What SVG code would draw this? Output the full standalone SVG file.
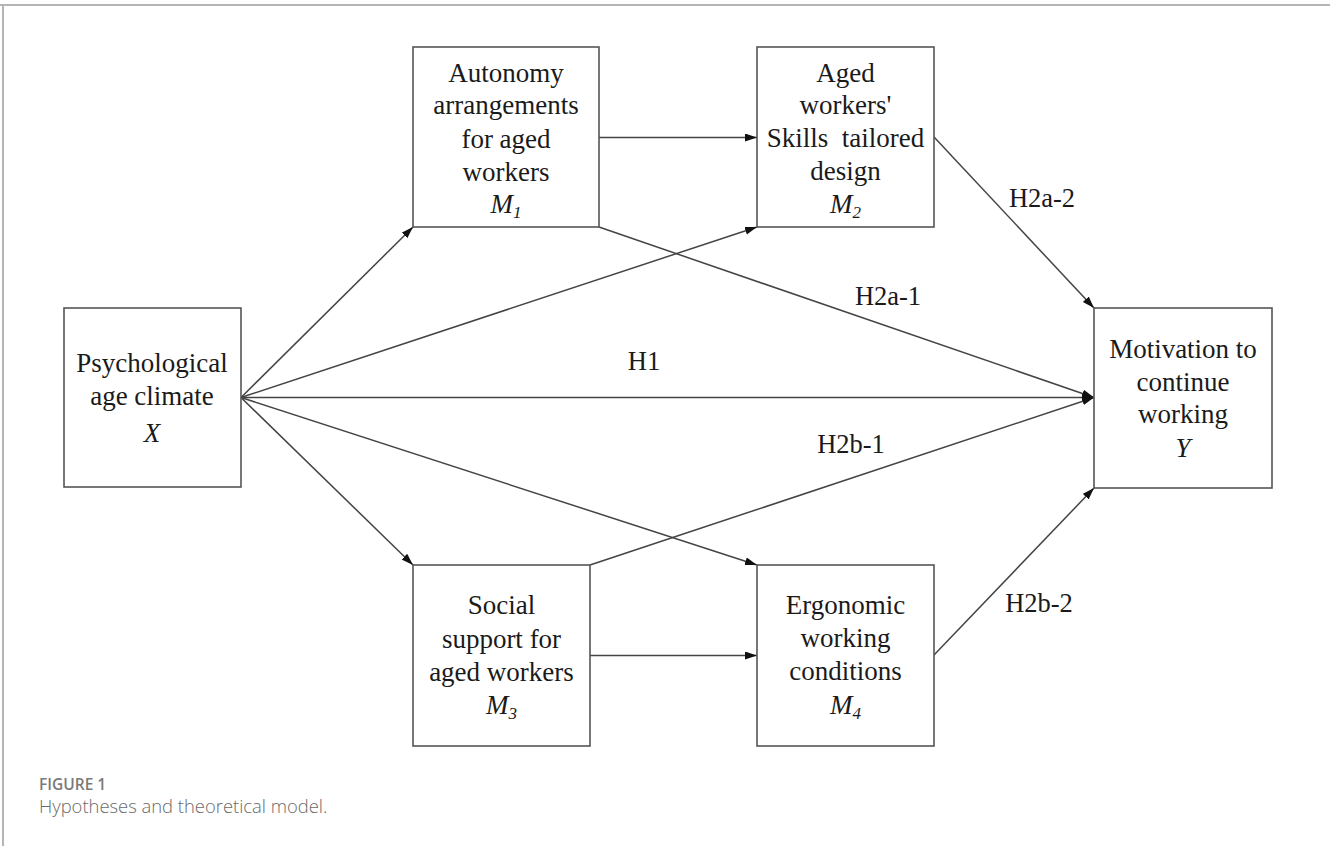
<svg xmlns="http://www.w3.org/2000/svg" width="1330" height="846" viewBox="0 0 1330 846">
<defs>
<marker id="arr" markerUnits="userSpaceOnUse" markerWidth="14" markerHeight="10" refX="12" refY="4" orient="auto">
<path d="M0,0 L12,4 L0,8 z" fill="#111"/>
</marker>
</defs>
<style>
.box{fill:#fff;stroke:#555;stroke-width:1.6}
.t{font-family:"Liberation Serif","Times New Roman",serif;font-size:27px;fill:#1a1a1a;text-anchor:middle}
.i{font-style:italic}
.lbl{font-family:"Liberation Serif","Times New Roman",serif;font-size:26.5px;fill:#1a1a1a;text-anchor:middle}
.c{fill:none;stroke:#444;stroke-width:1.5;marker-end:url(#arr)}
</style>
<rect width="1330" height="846" fill="#fff"/>
<g id="frame">
<line x1="0" y1="5" x2="1330" y2="5" stroke="#b5b5b5" stroke-width="2"/>
<line x1="3" y1="5" x2="3" y2="846" stroke="#b5b5b5" stroke-width="2"/>
</g>
<g id="connectors">
<line class="c" x1="599" y1="137.5" x2="757" y2="137.5"/>
<line class="c" x1="590" y1="655.5" x2="757" y2="655.5"/>
<line class="c" x1="241" y1="397.5" x2="413" y2="227"/>
<line class="c" x1="241" y1="397.5" x2="757" y2="227"/>
<line class="c" x1="241" y1="397.5" x2="1094" y2="397.5"/>
<line class="c" x1="241" y1="397.5" x2="413" y2="565"/>
<line class="c" x1="241" y1="397.5" x2="757" y2="565"/>
<line class="c" x1="599" y1="227" x2="1094" y2="397.5"/>
<line class="c" x1="934" y1="137" x2="1094" y2="308"/>
<line class="c" x1="590" y1="565" x2="1094" y2="397.5"/>
<line class="c" x1="934" y1="655" x2="1094" y2="488"/>
</g>
<g id="labels">
<text class="lbl" x="644" y="370">H1</text>
<text class="lbl" x="888" y="305">H2a-1</text>
<text class="lbl" x="1042" y="207">H2a-2</text>
<text class="lbl" x="851" y="453">H2b-1</text>
<text class="lbl" x="1039" y="612">H2b-2</text>
</g>
<g id="X">
<rect class="box" x="64" y="308" width="177" height="179"/>
<text class="t" x="152" y="372">Psychological</text>
<text class="t" x="152" y="405">age climate</text>
<text class="t i" x="152" y="442">X</text>
</g>
<g id="M1">
<rect class="box" x="413" y="47" width="186" height="180"/>
<text class="t" x="506" y="82">Autonomy</text>
<text class="t" x="506" y="114">arrangements</text>
<text class="t" x="506" y="148">for aged</text>
<text class="t" x="506" y="181">workers</text>
<text class="t i" x="506" y="213">M<tspan font-size="17" dy="5">1</tspan></text>
</g>
<g id="M2">
<rect class="box" x="757" y="47" width="177" height="180"/>
<text class="t" x="845.5" y="82">Aged</text>
<text class="t" x="845.5" y="114">workers'</text>
<text class="t" x="845.5" y="147" xml:space="preserve">Skills  tailored</text>
<text class="t" x="845.5" y="180">design</text>
<text class="t i" x="845.5" y="213">M<tspan font-size="17" dy="5">2</tspan></text>
</g>
<g id="Y">
<rect class="box" x="1094" y="308" width="178" height="180"/>
<text class="t" x="1183" y="358">Motivation to</text>
<text class="t" x="1183" y="391">continue</text>
<text class="t" x="1183" y="423">working</text>
<text class="t i" x="1183" y="457">Y</text>
</g>
<g id="M3">
<rect class="box" x="413" y="565" width="177" height="181"/>
<text class="t" x="501.5" y="614">Social</text>
<text class="t" x="501.5" y="648">support for</text>
<text class="t" x="501.5" y="681">aged workers</text>
<text class="t i" x="501.5" y="714">M<tspan font-size="17" dy="5">3</tspan></text>
</g>
<g id="M4">
<rect class="box" x="757" y="565" width="177" height="181"/>
<text class="t" x="845.5" y="614">Ergonomic</text>
<text class="t" x="845.5" y="647">working</text>
<text class="t" x="845.5" y="680">conditions</text>
<text class="t i" x="845.5" y="714">M<tspan font-size="17" dy="5">4</tspan></text>
</g>
<g id="caption">
<text x="39" y="790" font-family="'Open Sans','Liberation Sans',sans-serif" font-size="15.5" font-weight="600" fill="#7a7a7a">FIGURE 1</text>
<text x="39" y="813" font-family="'Open Sans','Liberation Sans',sans-serif" font-size="18.4" font-weight="300" fill="#6a6a6a">Hypotheses and theoretical model.</text>
</g>
</svg>
